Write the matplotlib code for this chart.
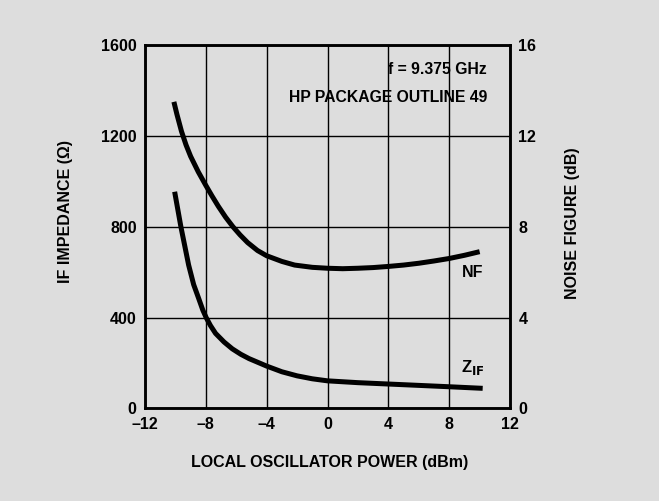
import numpy as np
import matplotlib
matplotlib.use('Agg')
import matplotlib.pyplot as plt

plt.rcParams['font.family'] = ['Liberation Sans Narrow', 'Liberation Sans', 'DejaVu Sans']
plt.rcParams['font.weight'] = 'bold'
plt.rcParams['axes.labelweight'] = 'bold'

# Dados
lo_power_nf = [-10.1, -9.9, -9.6, -9.3, -9.0, -8.5, -8.0, -7.6, -7.18, -6.7, -6.22, -5.75, -5.25,
               -4.6, -4.0, -3.0, -2.16, -1.0, 0, 1, 2, 3, 4, 5, 6, 7, 8, 9, 10]
noise_figure = [13.5, 12.95, 12.2, 11.6, 11.1, 10.42, 9.82, 9.36, 8.9, 8.42, 8.0, 7.64, 7.3,
                6.95, 6.72, 6.47, 6.31, 6.21, 6.17, 6.15, 6.17, 6.2, 6.25, 6.31, 6.39, 6.49, 6.6, 6.74, 6.9]

lo_power_z = [-10.05, -9.64, -9.13, -8.8, -8.47, -8.2, -7.98, -7.7, -7.36, -6.8, -6.26, -5.7, -5.16,
              -4.0, -3.0, -2.0, -1.0, 0, 2, 4, 6, 8, 10.2]
if_impedance = [954, 800, 631, 545, 484, 433, 400, 365, 330, 292, 262, 238, 219,
                186, 161, 143, 130, 121, 113, 107, 101, 95, 88]

x_ticks = [-12, -8, -4, 0, 4, 8, 12]
z_ticks = [0, 400, 800, 1200, 1600]
nf_ticks = [0, 4, 8, 12, 16]

bg = '#dddddd'
fig = plt.figure(figsize=(6.59, 5.01), dpi=100, facecolor=bg)
ax = fig.add_axes([0.220, 0.185, 0.554, 0.725], facecolor=bg)
ax2 = ax.twinx()

ax.plot(lo_power_z, if_impedance, color='black', lw=3.6, solid_capstyle='butt', solid_joinstyle='round')
ax2.plot(lo_power_nf, noise_figure, color='black', lw=3.6, solid_capstyle='butt', solid_joinstyle='round')

ax.set_xlim(-12, 12)
ax.set_ylim(0, 1600)
ax2.set_ylim(0, 16)
ax.set_xticks(x_ticks)
ax.set_xticklabels([str(t).replace('-', '\u2013') for t in x_ticks])
ax.set_yticks(z_ticks)
ax2.set_yticks(nf_ticks)

ax.grid(True, color='black', lw=1.0)
for a in (ax, ax2):
    a.tick_params(length=0, labelsize=11.5, pad=6)
    for s in a.spines.values():
        s.set_linewidth(1.8)

ax.set_xlabel('LOCAL OSCILLATOR POWER (dBm)', fontsize=11.5, fontweight='bold')
ax.set_ylabel('IF IMPEDANCE (\u03a9)', fontsize=11.5, fontweight='bold')
ax2.set_ylabel('NOISE FIGURE (dB)', fontsize=11.5, fontweight='bold')
ax.xaxis.set_label_coords(0.507, -0.129)
ax.yaxis.set_label_coords(-0.198, 0.543)
ax2.yaxis.set_label_coords(1.151, 0.509)

ax.text(10.5, 1493, 'f = 9.375 GHz', ha='right', va='center', fontsize=11.3)
ax.text(10.5, 1368, 'HP PACKAGE OUTLINE 49', ha='right', va='center', fontsize=11.3)
ax.text(9.55, 600, 'NF', ha='center', va='center', fontsize=11.5)
ax.text(9.55, 180, r'Z$_{\mathbf{IF}}$', ha='center', va='center', fontsize=12)

fig.savefig('out.png', dpi=100, facecolor=bg)
